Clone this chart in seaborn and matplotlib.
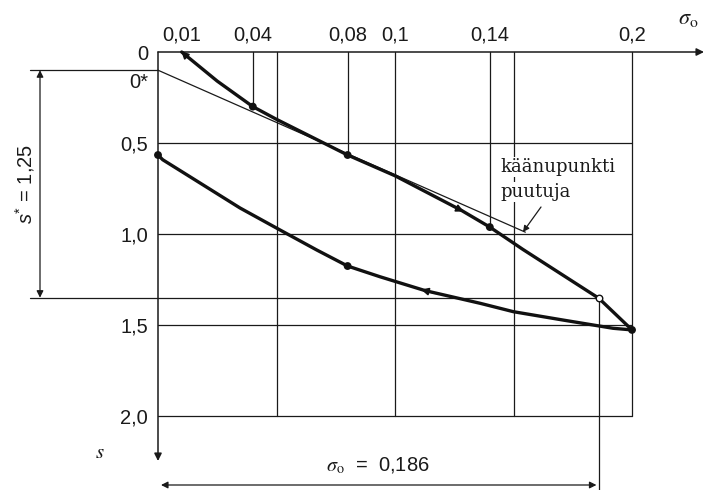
import matplotlib
matplotlib.use("Agg")
import matplotlib.pyplot as plt
import seaborn as sns
import numpy as np

sns.set_theme(style="white")
plt.rcParams['font.family'] = ['Liberation Sans', 'DejaVu Sans']
plt.rcParams['mathtext.fontset'] = 'stix'
plt.rcParams['mathtext.it'] = 'Liberation Sans:italic'
plt.rcParams['mathtext.rm'] = 'Liberation Sans'

# ---- data ----
x_ticks = [0.01, 0.04, 0.08, 0.1, 0.14, 0.2]
x_tick_labels = ["0,01", "0,04", "0,08", "0,1", "0,14", "0,2"]
y_ticks = [0.0, 0.5, 1.0, 1.5, 2.0]
y_tick_labels = ["0", "0,5", "1,0", "1,5", "2,0"]
grid_x = [0.05, 0.1, 0.15, 0.2]
grid_y = [0.5, 1.0, 1.5, 2.0]

# loading curve
load_sigma = [0.01, 0.025, 0.04, 0.05, 0.08, 0.10, 0.128, 0.14, 0.154, 0.186, 0.2]
load_s = [0.0, 0.16, 0.30, 0.37, 0.566, 0.68, 0.87, 0.962, 1.085, 1.353, 1.527]
load_pts_sigma = [0.04, 0.08, 0.14, 0.2]
load_pts_s = [0.30, 0.566, 0.962, 1.527]

# unloading curve
unload_sigma = [0.2, 0.192, 0.171, 0.15, 0.136, 0.1127, 0.0937, 0.08, 0.067, 0.0515, 0.0346, 0.0105, 0.002, 0.0]
unload_s = [1.527, 1.518, 1.473, 1.427, 1.381, 1.311, 1.235, 1.176, 1.088, 0.978, 0.857, 0.661, 0.592, 0.566]
unload_pts_sigma = [0.08, 0.0]
unload_pts_s = [1.176, 0.566]

# tangent / construction values
s_zero_star = 0.1
s_star = 1.25
sigma_o = 0.186
tangent_sigma = [0.0, 0.155]
tangent_s = [0.1, 0.99]

# ---- figure ----
fig = plt.figure(figsize=(7.05, 4.9), dpi=100)
ax = fig.add_axes([0, 0, 1, 1])
X0, XS = 158, 2370.0   # pixel of sigma=0, pixels per unit
Y0, YS = 52, 182.0
ax.set_xlim(-X0 / XS, (705 - X0) / XS)
ax.set_ylim((490 - Y0) / YS, -Y0 / YS)
ax.axis('off')

def px(x):
    return (x - X0) / XS

def py(y):
    return (y - Y0) / YS

lc = '#1a1a1a'
thin = 0.9
fs = 14.5

# grid
for g in grid_x:
    ax.plot([g, g], [0, 2.0], color=lc, lw=thin, zorder=1)
for g in grid_y:
    ax.plot([0, 0.2], [g, g], color=lc, lw=thin, zorder=1)
# short verticals to measured points
for sx, sy in zip([0.04, 0.08, 0.14], [0.30, 0.566, 0.962]):
    ax.plot([sx, sx], [0, sy], color=lc, lw=thin, zorder=1)

# axes with arrows
ax.annotate('', xy=(px(704), 0), xytext=(0, 0),
            arrowprops=dict(arrowstyle='-|>', color=lc, lw=1.1, mutation_scale=11,
                            shrinkA=0, shrinkB=0))
ax.annotate('', xy=(0, py(461)), xytext=(0, 0),
            arrowprops=dict(arrowstyle='-|>', color=lc, lw=1.1, mutation_scale=11,
                            shrinkA=0, shrinkB=0))

# construction lines
ax.plot([px(30), 0], [s_zero_star, s_zero_star], color=lc, lw=thin)
ax.plot([px(30), sigma_o], [s_zero_star + s_star, s_zero_star + s_star], color=lc, lw=thin)
ax.plot([sigma_o, sigma_o], [s_zero_star + s_star, py(490)], color=lc, lw=thin)
ax.annotate('', xy=(px(40), s_zero_star), xytext=(px(40), s_zero_star + s_star),
            arrowprops=dict(arrowstyle='<|-|>', color=lc, lw=thin, mutation_scale=10,
                            shrinkA=0, shrinkB=0))
ax.annotate('', xy=(px(161), py(485)), xytext=(sigma_o - 0.001, py(485)),
            arrowprops=dict(arrowstyle='<|-|>', color=lc, lw=thin, mutation_scale=10,
                            shrinkA=0, shrinkB=0))

# tangent line
sns.lineplot(x=tangent_sigma, y=tangent_s, ax=ax, color=lc, lw=0.9, sort=False, zorder=2)

# curves
sns.lineplot(x=load_sigma, y=load_s, ax=ax, color='#111111', lw=2.4, sort=False, zorder=3)
sns.lineplot(x=unload_sigma, y=unload_s, ax=ax, color='#111111', lw=2.4, sort=False, zorder=3)
sns.scatterplot(x=load_pts_sigma + unload_pts_sigma, y=load_pts_s + unload_pts_s, ax=ax,
                color='#111111', s=32, edgecolor='none', zorder=4)
ax.scatter([sigma_o], [1.353], s=22, facecolor='white', edgecolor='#111111', lw=1.0, zorder=5)

# direction arrowheads on curves
arr = dict(arrowstyle='-|>', color='#111111', lw=1.2, mutation_scale=11, shrinkA=0, shrinkB=0)
ax.annotate('', xy=(0.0098, -0.005), xytext=(0.0125, 0.03), arrowprops=arr)
ax.annotate('', xy=(0.129, 0.877), xytext=(0.124, 0.845), arrowprops=arr)
ax.annotate('', xy=(0.111, 1.305), xytext=(0.117, 1.326), arrowprops=arr)

# tick labels
for v, t in zip(x_ticks, x_tick_labels):
    ax.text(v, py(35), t, ha='center', va='center', fontsize=fs, color=lc)
for v, t in zip(y_ticks, y_tick_labels):
    ax.text(px(148), v + 0.012, t, ha='right', va='center', fontsize=fs, color=lc)
ax.text(px(148), py(82), "0*", ha='right', va='center', fontsize=fs, color=lc)

# axis labels
ax.text(px(688), py(18), r'$\sigma_\mathrm{o}$', ha='center', va='center', fontsize=16,
        color=lc, math_fontfamily='stix')
ax.text(px(100), py(452), r'$s$', ha='center', va='center', fontsize=15, color=lc,
        math_fontfamily='stix')

# s* label
ax.text(px(25), py(184), r'$s^{*}$ = 1,25', rotation=90, ha='center', va='center',
        fontsize=fs, color=lc, math_fontfamily='custom')

# sigma_o label
ax.text(px(378), py(466), r'$\sigma_\mathrm{o}$  =  0,186', ha='center', va='center',
        fontsize=fs, color=lc, math_fontfamily='stix')

# turning point annotation
bb = dict(facecolor='white', edgecolor='none', pad=1.0)
ax.text(px(500), py(167), 'käänupunkti', ha='left', va='center', fontsize=13,
        family='DejaVu Serif', color=lc, bbox=bb, zorder=6)
ax.text(px(500), py(192), 'puutuja', ha='left', va='center', fontsize=13,
        family='DejaVu Serif', color=lc, bbox=bb, zorder=6)
ax.annotate('', xy=(px(523), py(232)), xytext=(px(541), py(207)),
            arrowprops=dict(arrowstyle='-|>', color=lc, lw=0.9, mutation_scale=9,
                            shrinkA=0, shrinkB=0))

fig.savefig('out.png', dpi=100, facecolor='white')
